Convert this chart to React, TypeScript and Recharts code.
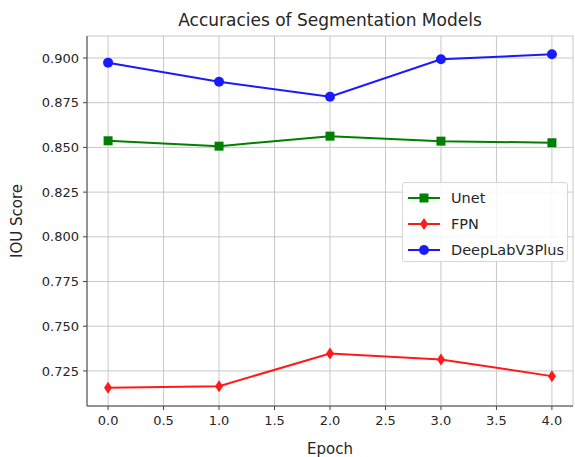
import { CartesianGrid, Label, Line, LineChart, XAxis, YAxis } from 'recharts'

const epochs = [0, 1, 2, 3, 4]
const unet = [0.8537, 0.8507, 0.8563, 0.8535, 0.8526]
const fpn = [0.7156, 0.7165, 0.7348, 0.7314, 0.7221]
const deeplab = [0.8974, 0.8867, 0.8783, 0.8993, 0.9021]

const xTicks = [0, 0.5, 1, 1.5, 2, 2.5, 3, 3.5, 4]
const yTicks = [0.725, 0.75, 0.775, 0.8, 0.825, 0.85, 0.875, 0.9]

const data = epochs.map((epoch, i) => ({
  epoch,
  unet: unet[i],
  fpn: fpn[i],
  deeplab: deeplab[i],
}))

const font = 'DejaVu Sans, sans-serif'
const tickStyle = { fontSize: 13, fill: '#262626', fontFamily: font }
const labelStyle = { fontSize: 15, fill: '#262626', fontFamily: font }

const Square = (props: any) => {
  const { cx, cy, fill } = props
  return <rect x={cx - 4.5} y={cy - 4.5} width={9} height={9} fill={fill} />
}

const Diamond = (props: any) => {
  const { cx, cy, fill } = props
  return <path d={`M${cx},${cy - 6}L${cx + 4},${cy}L${cx},${cy + 6}L${cx - 4},${cy}Z`} fill={fill} />
}

const Circle = (props: any) => {
  const { cx, cy, fill } = props
  return <circle cx={cx} cy={cy} r={5} fill={fill} />
}

const series = [
  { key: 'unet', name: 'Unet', color: '#008000', dot: Square },
  { key: 'fpn', name: 'FPN', color: '#ff1a1a', dot: Diamond },
  { key: 'deeplab', name: 'DeepLabV3Plus', color: '#1a1aff', dot: Circle },
]

function LegendBox() {
  return (
    <div
      style={{
        position: 'absolute',
        left: 402,
        top: 182,
        width: 166,
        height: 80,
        border: '1px solid #d6d6d6',
        borderRadius: 3,
        background: 'rgba(255,255,255,0.85)',
        fontFamily: font,
        fontSize: 14.5,
        color: '#262626',
        boxSizing: 'border-box',
        paddingTop: 2,
      }}
    >
      {series.map((s) => {
        const Dot = s.dot
        return (
          <div key={s.key} style={{ display: 'flex', alignItems: 'center', height: 26 }}>
            <svg width={40} height={20} style={{ marginLeft: 3 }}>
              <line x1={2} y1={10} x2={34} y2={10} stroke={s.color} strokeWidth={2} />
              <Dot cx={18} cy={10} fill={s.color} />
            </svg>
            <span style={{ marginLeft: 5 }}>{s.name}</span>
          </div>
        )
      })}
    </div>
  )
}

export default function App() {
  return (
    <div style={{ position: 'absolute', left: 0, top: 0, width: 575, height: 457, background: '#fff' }}>
      <div
        style={{
          position: 'absolute',
          left: 87,
          width: 486,
          top: 10,
          textAlign: 'center',
          fontFamily: font,
          fontSize: 17,
          color: '#262626',
        }}
      >
        Accuracies of Segmentation Models
      </div>
      <LineChart width={575} height={457} data={data} margin={{ top: 36, right: 2, bottom: 0, left: 0 }}>
        <CartesianGrid stroke='#c8c8c8' strokeWidth={1} />
        <XAxis
          dataKey='epoch'
          type='number'
          domain={[-0.19, 4.19]}
          ticks={xTicks}
          tickFormatter={(v: number) => v.toFixed(1)}
          height={51}
          tick={tickStyle}
          tickSize={4}
          tickMargin={6}
          stroke='#444'
          allowDataOverflow
        >
          <Label value='Epoch' position='insideBottom' offset={3} style={labelStyle} />
        </XAxis>
        <XAxis xAxisId='top' orientation='top' type='number' domain={[-0.19, 4.19]} height={0} tick={false} tickLine={false} stroke='#444' />
        <YAxis
          type='number'
          domain={[0.7054, 0.9123]}
          ticks={yTicks}
          tickFormatter={(v: number) => v.toFixed(3)}
          width={87}
          tick={tickStyle}
          tickSize={4}
          tickMargin={4}
          stroke='#444'
          allowDataOverflow
        >
          <Label
            value='IOU Score'
            angle={-90}
            position='insideLeft'
            offset={17}
            style={{ ...labelStyle, textAnchor: 'middle' }}
          />
        </YAxis>
        <YAxis yAxisId='right' orientation='right' domain={[0, 1]} width={0} tick={false} tickLine={false} stroke='#444' />
        {series.map((s) => (
          <Line
            key={s.key}
            dataKey={s.key}
            name={s.name}
            stroke={s.color}
            strokeWidth={2}
            dot={<s.dot fill={s.color} />}
            activeDot={false}
            isAnimationActive={false}
          />
        ))}
      </LineChart>
      <LegendBox />
    </div>
  )
}
